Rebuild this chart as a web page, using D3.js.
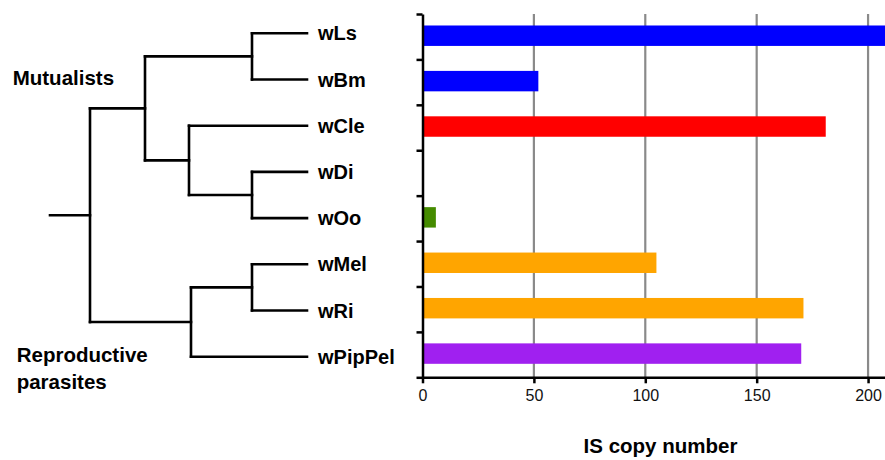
<!DOCTYPE html>
<html>

<head>
  <meta charset="utf-8">
  <title>IS copy number</title>
  <script type="text/javascript" src="https://cdn.jsdelivr.net/npm/d3@7"></script>
  <style type="text/css">
    body { margin: 0; background: #fff; }
    text { font-family: "Liberation Sans", Arial, sans-serif; }
  </style>
</head>

<body>
  <script type="text/javascript">

    // data
    const strains = ["wLs", "wBm", "wCle", "wDi", "wOo", "wMel", "wRi", "wPipPel"];
    const copies = [212, 52, 181, 0, 6, 105, 171, 170];
    const colors = ["#0000ff", "#0000ff", "#ff0000", "#ffffff", "#458b00", "#ffa500", "#ffa500", "#a020f0"];
    const xTicks = [0, 50, 100, 150, 200];

    // tree, branch lengths in arbitrary units
    const rootStem = 40;
    const tree = {
      len: 0, children: [
        { len: 55, children: [
          { len: 107, children: [{ name: "wLs", len: 55 }, { name: "wBm", len: 55 }] },
          { len: 44, children: [
            { name: "wCle", len: 118 },
            { len: 63, children: [{ name: "wDi", len: 55 }, { name: "wOo", len: 55 }] }
          ] }
        ] },
        { len: 101, children: [
          { len: 61, children: [{ name: "wMel", len: 55 }, { name: "wRi", len: 55 }] },
          { name: "wPipPel", len: 116 }
        ] }
      ]
    };
    const groups = [
      { lines: ["Mutualists"], x: 12.7, y: 85 },
      { lines: ["Reproductive", "parasites"], x: 16.7, y: 361.7 }
    ];

    const w = 885;
    const h = 460;

    const svg = d3.select("body")
      .append("svg")
      .attr("width", w)
      .attr("height", h);

    // ---- bar chart ----
    const x = d3.scaleLinear().domain([0, 207.6]).range([422.5, 885]);
    const yIdx = d3.scaleLinear().domain([0, strains.length]).range([14, 377.3]);
    const y = d3.scaleBand().domain(strains).range([13, 376.3])
      .paddingInner(0.55).paddingOuter(0.275);

    svg.append("clipPath").attr("id", "plot")
      .append("rect")
      .attr("x", x.range()[0]).attr("y", 0)
      .attr("width", x.range()[1] - x.range()[0]).attr("height", h);

    // grid
    svg.selectAll("line.grid")
      .data(xTicks.filter(d => d > 0))
      .enter()
      .append("line")
      .attr("class", "grid")
      .attr("x1", d => x(d)).attr("x2", d => x(d))
      .attr("y1", yIdx(0)).attr("y2", yIdx(strains.length))
      .attr("stroke", "#8a8a8a")
      .attr("stroke-width", 2.2);

    svg.append("g")
      .attr("clip-path", "url(#plot)")
      .selectAll("rect")
      .data(strains)
      .enter()
      .append("rect")
      .attr("x", x(0))
      .attr("y", d => y(d))
      .attr("height", y.bandwidth())
      .attr("width", (d, i) => x(copies[i]) - x(0))
      .attr("fill", (d, i) => colors[i]);

    const yAxis = svg.append("g")
      .attr("transform", "translate(" + x(0) + ",0)")
      .call(d3.axisLeft(yIdx).tickValues(d3.range(strains.length + 1))
        .tickFormat("").tickSize(6).tickSizeOuter(0));

    const xAxis = svg.append("g")
      .attr("transform", "translate(0," + yIdx(strains.length) + ")")
      .call(d3.axisBottom(x).tickValues(xTicks).tickSize(6)
        .tickSizeOuter(0).tickPadding(6));

    [xAxis, yAxis].forEach(function (g) {
      g.selectAll("path, line").attr("stroke", "#000").attr("stroke-width", 2.5);
    });
    xAxis.selectAll("text")
      .attr("font-size", "16px")
      .attr("font-family", "Liberation Sans, Arial, sans-serif")
      .attr("fill", "#111");

    svg.append("text")
      .attr("x", 660.5).attr("y", 453)
      .attr("text-anchor", "middle")
      .attr("font-weight", "bold")
      .attr("font-size", "20.5px")
      .text("IS copy number");

    // ---- tree ----
    const root = d3.hierarchy(tree);
    root.each(function (d) {
      d.dist = d.parent ? d.parent.dist + d.data.len : 0;
    });
    const tx = d3.scaleLinear().domain([0, 217]).range([90, 307]);
    const ty = d3.scalePoint().domain(strains).range([33.3, 356.7]);

    root.eachAfter(function (d) {
      d.py = d.children ? d3.mean(d.children, c => c.py) : ty(d.data.name);
    });

    const branches = [];
    root.each(function (d) {
      const x0 = d.parent ? tx(d.parent.dist) : tx(-rootStem);
      branches.push([[x0, d.py], [tx(d.dist), d.py]]);
      if (d.children) {
        const ys = d.children.map(c => c.py);
        branches.push([[tx(d.dist), d3.min(ys)], [tx(d.dist), d3.max(ys)]]);
      }
    });

    svg.selectAll("path.branch")
      .data(branches)
      .enter()
      .append("path")
      .attr("class", "branch")
      .attr("d", d3.line())
      .attr("stroke", "#000")
      .attr("stroke-width", 2.6)
      .attr("stroke-linecap", "square")
      .attr("fill", "none");

    svg.selectAll("text.leaf")
      .data(strains)
      .enter()
      .append("text")
      .attr("class", "leaf")
      .attr("x", 318)
      .attr("y", d => ty(d) + 7)
      .attr("font-weight", "bold")
      .attr("font-size", "20px")
      .text(d => d);

    groups.forEach(function (gp) {
      const t = svg.append("text")
        .attr("x", gp.x).attr("y", gp.y)
        .attr("font-weight", "bold")
        .attr("font-size", "20.5px");
      gp.lines.forEach(function (l, i) {
        t.append("tspan").attr("x", gp.x).attr("dy", i ? 27.6 : 0).text(l);
      });
    });

  </script>
</body>

</html>
